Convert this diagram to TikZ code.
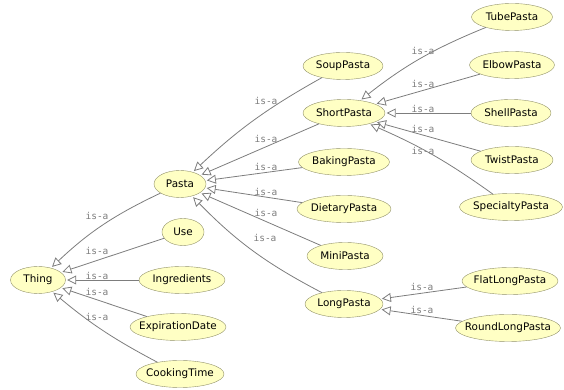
\documentclass[tikz,border=0pt]{standalone}
\usepackage{fontspec}
\setsansfont{DejaVu Sans}
\setmonofont{DejaVu Sans Mono}
\usepackage{tikz}
\usetikzlibrary{arrows.meta}
\usetikzlibrary{shapes.geometric}
\definecolor{clsfill}{RGB}{255,255,196}
\definecolor{clsline}{RGB}{145,145,105}
\definecolor{isagray}{RGB}{125,125,125}

\begin{document}
\begin{tikzpicture}[x=1pt, y=1pt,
		cls/.style={ellipse, draw=clsline, fill=clsfill, inner xsep=-20pt, inner ysep=0pt, minimum height=27pt, font=\sffamily\fontsize{10.4}{12}\selectfont},
		isa/.style={draw=isagray, line width=0.8pt, -{Triangle[open, length=9pt, width=9pt]}, shorten >=1.5pt},
		lbl/.style={text=isagray, inner sep=0pt, font=\ttfamily\fontsize{9.5}{11}\selectfont}]
		\useasboundingbox (0,0) rectangle (564,390);
		%\draw[thin, gray!25] (0,0) grid[step=50] (564,390);
		\node[cls, minimum width=55pt] (thing) at (38,110) {Thing};
		\node[cls, minimum width=42pt] (use) at (183,158) {Use};
		\node[cls, minimum width=86pt] (ingr) at (182,110) {Ingredients};
		\node[cls, minimum width=96pt] (expir) at (178,63) {ExpirationDate};
		\node[cls, minimum width=88pt] (cook) at (180,16) {CookingTime};
		\node[cls, minimum width=52pt] (pasta) at (180,206) {Pasta};
		\node[cls, minimum width=80pt] (soup) at (343,324) {SoupPasta};
		\node[cls, minimum width=82pt] (short) at (344,277) {ShortPasta};
		\node[cls, minimum width=91pt] (baking) at (344,228) {BakingPasta};
		\node[cls, minimum width=94pt] (dietary) at (344,181) {DietaryPasta};
		\node[cls, minimum width=76pt] (mini) at (345,134) {MiniPasta};
		\node[cls, minimum width=78pt] (long) at (344,86) {LongPasta};
		\node[cls, minimum width=81pt] (tube) at (512,373) {TubePasta};
		\node[cls, minimum width=85pt] (elbow) at (512,325) {ElbowPasta};
		\node[cls, minimum width=80pt] (shell) at (511,277) {ShellPasta};
		\node[cls, minimum width=82pt] (twist) at (512,230) {TwistPasta};
		\node[cls, minimum width=103pt] (special) at (511,183) {SpecialtyPasta};
		\node[cls, minimum width=96pt] (flat) at (510,109) {FlatLongPasta};
		\node[cls, minimum width=105pt] (round) at (508,62) {RoundLongPasta};
		% subclasses of Thing
		\draw[isa] (pasta) to[bend right=9] (thing);
		\draw[isa] (use) -- (thing);
		\draw[isa] (ingr) -- (thing);
		\draw[isa] (expir) -- (thing);
		\draw[isa] (cook) to[bend left=6] (thing);
		\node[lbl] (l1) at (97,174) {is-a};
		\node[lbl] (l2) at (97,139) {is-a};
		\node[lbl] (l3) at (97,114) {is-a};
		\node[lbl] (l4) at (97,98) {is-a};
		\node[lbl] (l5) at (97,73) {is-a};
		% subclasses of Pasta
		\draw[isa] (soup) to[bend right=7] (pasta);
		\draw[isa] (short) -- (pasta);
		\draw[isa] (baking) -- (pasta);
		\draw[isa] (dietary) -- (pasta);
		\draw[isa] (mini) -- (pasta);
		\draw[isa] (long) to[bend left=9] (pasta);
		\node[lbl] (l6) at (266,289) {is-a};
		\node[lbl] (l7) at (266,251) {is-a};
		\node[lbl] (l8) at (266,223) {is-a};
		\node[lbl] (l9) at (266,198) {is-a};
		\node[lbl] (l10) at (266,177) {is-a};
		\node[lbl] (l11) at (265,152) {is-a};
		% subclasses of ShortPasta
		\draw[isa] (tube) to[bend right=8] (short);
		\draw[isa] (elbow) -- (short);
		\draw[isa] (shell) -- (short);
		\draw[isa] (twist) -- (short);
		\draw[isa] (special) to[bend right=6] (short);
		\node[lbl] (l12) at (423,339) {is-a};
		\node[lbl] (l13) at (423,306) {is-a};
		\node[lbl] (l14) at (423,281) {is-a};
		\node[lbl] (l15) at (423,261) {is-a};
		\node[lbl] (l16) at (423,239) {is-a};
		% subclasses of LongPasta
		\draw[isa] (flat) -- (long);
		\draw[isa] (round) -- (long);
		\node[lbl] (l17) at (422,103) {is-a};
		\node[lbl] (l18) at (422,80) {is-a};
	\end{tikzpicture}
\end{document}
